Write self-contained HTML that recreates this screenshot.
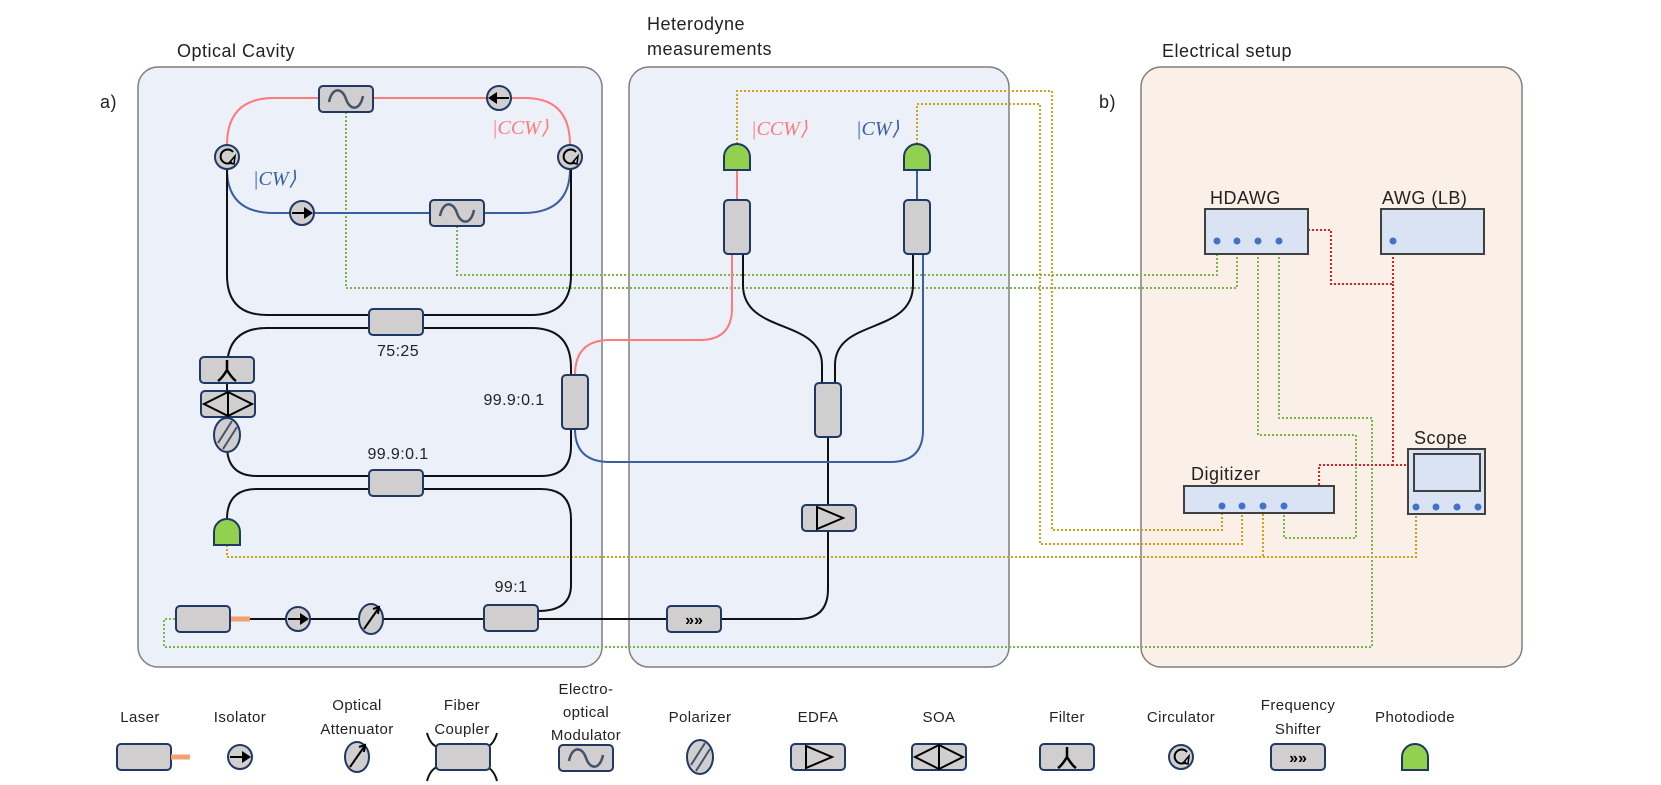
<!DOCTYPE html>
<html><head><meta charset="utf-8"><style>
html,body{margin:0;padding:0;background:#fff;}
svg{display:block;font-family:"Liberation Sans",sans-serif;}
.t{font-size:16px;fill:#222;letter-spacing:0.4px}
.lg{font-size:15px}
.h{font-size:18px;fill:#222;letter-spacing:0.5px}
.c{fill:#d0cece;stroke:#203864;stroke-width:2}
.bk{fill:none;stroke:#111;stroke-width:2}
.pk{fill:none;stroke:#ff7b7b;stroke-width:2}
.bl{fill:none;stroke:#3a5fa0;stroke-width:2}
.g{fill:none;stroke:#7ab648;stroke-width:2;stroke-dasharray:2 2}
.o{fill:none;stroke:#d4a017;stroke-width:2;stroke-dasharray:2 2}
.r{fill:none;stroke:#e02020;stroke-width:2;stroke-dasharray:2 2}
.pd{fill:#92d050;stroke:#203864;stroke-width:2}
.ins{fill:#dae3f3;stroke:#404040;stroke-width:2}
.port{fill:#4472c4}
</style></head><body>
<svg width="1661" height="785" viewBox="0 0 1661 785">
<defs>
<g id="eom"><rect class="c" x="-27" y="-13" width="54" height="26" rx="4"/><path d="M-17,3 C-14,-12 -4,-12 0,0 C4,12 14,12 17,-3" fill="none" stroke="#44546a" stroke-width="2.5"/></g>
<g id="cpl"><rect class="c" x="-27" y="-13" width="54" height="26" rx="4"/></g>
<g id="vcpl"><rect class="c" x="-13" y="-27" width="26" height="54" rx="4"/></g>
<g id="isoR"><circle class="c" r="12"/><path d="M-10,0 H4" stroke="#000" stroke-width="2"/><path d="M2,-6 L11,0 L2,6Z" fill="#000"/></g>
<g id="isoL"><circle class="c" r="12"/><path d="M10,0 H-4" stroke="#000" stroke-width="2"/><path d="M-2,-6 L-11,0 L-2,6Z" fill="#000"/></g>
<g id="circ"><circle class="c" r="12"/><path d="M6,-5 A7,7 0 1 0 5,5" fill="none" stroke="#000" stroke-width="2"/><path d="M2,6 L8,-1 L7,7Z" fill="none" stroke="#000" stroke-width="1.5"/></g>
<g id="att"><ellipse class="c" rx="12" ry="15"/><path d="M-7,10 L7,-10" stroke="#000" stroke-width="2"/><path d="M2,-10 L8,-12 L7,-5" fill="none" stroke="#000" stroke-width="2"/></g>
<g id="pol"><ellipse class="c" rx="13" ry="17" fill="#d0cece"/><path d="M-9,8 L5,-14 M-4,14 L10,-8" stroke="#44546a" stroke-width="2"/></g>
<g id="flt"><rect class="c" x="-27" y="-13" width="54" height="26" rx="4"/><path d="M0,-10 V0 M0,0 C-3,5 -6,9 -9,11 M0,0 C3,5 6,9 9,11" fill="none" stroke="#000" stroke-width="2.5"/></g>
<g id="soa"><rect class="c" x="-27" y="-13" width="54" height="26" rx="4"/><path d="M-24,0 L0,-12 L24,0 L0,12Z M0,-12 V12" fill="none" stroke="#000" stroke-width="2"/></g>
<g id="edfa"><rect class="c" x="-27" y="-13" width="54" height="26" rx="4"/><path d="M-12,-11 V11 L14,0Z" fill="none" stroke="#000" stroke-width="2"/></g>
<g id="fs"><rect class="c" x="-27" y="-13" width="54" height="26" rx="4"/><text x="0" y="6" text-anchor="middle" font-size="16" font-weight="bold" fill="#000">»»</text></g>
<g id="pdi"><path class="pd" d="M-13,13 V0 A13,13 0 0 1 13,0 V13Z"/></g>
</defs>

<rect x="138" y="67" width="464" height="600" rx="20" fill="#ebf0f9" stroke="#7f7f7f" stroke-width="1.5"/>
<rect x="629" y="67" width="380" height="600" rx="20" fill="#ebf0f9" stroke="#7f7f7f" stroke-width="1.5"/>
<rect x="1141" y="67" width="381" height="600" rx="20" fill="#fbf0e8" stroke="#7f7f7f" stroke-width="1.5"/>
<text class="h" x="177" y="57">Optical Cavity</text>
<text class="h" x="647" y="30">Heterodyne</text>
<text class="h" x="647" y="55">measurements</text>
<text class="h" x="1162" y="57">Electrical setup</text>
<text class="h" x="100" y="108">a)</text>
<text class="h" x="1099" y="108">b)</text>

<path class="g" d="M346,112 V288 H1237 V241"/>
<path class="g" d="M457,226 V275 H1217 V241"/>
<path class="g" d="M1258,241 V435 H1356 V538 H1284 V506"/>
<path class="g" d="M1279,241 V418 H1372 V647 H164 V619 H176"/>
<path class="o" d="M737,144 V91 H1052 V530 H1222 V506"/>
<path class="o" d="M917,144 V104 H1040 V544 H1242 V506"/>
<path class="o" d="M227,545 V557 H1416 V506"/>
<path class="o" d="M1263,506 V557"/>
<path class="r" d="M1308,230 H1331 V284 H1393 V241"/>
<path class="r" d="M1393,284 V465 H1408 M1393,465 H1319 V486"/>

<path class="pk" d="M227,145 Q227,98 274,98 L525,98 Q570,98 570,145"/>
<path class="bl" d="M227,169 Q227,213 274,213 L523,213 Q570,213 570,169"/>
<path class="bk" d="M227,169 L227,275 Q227,315 267,315 L531,315 Q571,315 571,275 L571,169"/>
<path class="bk" d="M227,436 L227,446 Q227,476 257,476 L541,476 Q571,476 571,446 L571,429"/>
<path class="bk" d="M571,375 L571,368 Q571,328 531,328 L267,328 Q227,328 227,368 L227,436"/>
<path class="bk" d="M227,520 L227,519 Q227,489 257,489 L541,489 Q571,489 571,519 L571,585 Q571,611 538,611"/>
<path class="bk" d="M230,619 L798,619 Q828,619 828,589 L828,436"/>
<path d="M230,619 H250" stroke="#f4a070" stroke-width="5"/>
<path class="pk" d="M575,375 Q575,340 610,340 L700,340 Q732,340 732,308 L732,254"/>
<path class="bl" d="M575,429 Q575,462 610,462 L890,462 Q923,462 923,430 L923,254"/>
<path class="bk" d="M743,254 L743,285 C743,335 822,318 822,365 L822,383"/>
<path class="bk" d="M913,254 L913,285 C913,335 835,318 835,365 L835,383"/>
<path class="pk" d="M737,170 V200"/>
<path class="bl" d="M917,170 V200"/>

<use href="#eom" x="346" y="99"/>
<use href="#isoL" x="499" y="98"/>
<use href="#circ" x="227" y="157"/>
<use href="#circ" x="570" y="157"/>
<use href="#isoR" x="302" y="213"/>
<use href="#eom" x="457" y="213"/>
<use href="#cpl" x="396" y="322"/>
<text class="t" x="398" y="356" text-anchor="middle">75:25</text>
<use href="#flt" x="227" y="370"/>
<use href="#soa" x="228" y="404"/>
<use href="#pol" x="227" y="435"/>
<use href="#vcpl" x="575" y="402"/>
<text class="t" x="514" y="405" text-anchor="middle">99.9:0.1</text>
<use href="#cpl" x="396" y="483"/>
<text class="t" x="398" y="459" text-anchor="middle">99.9:0.1</text>
<use href="#pdi" x="227" y="532"/>
<rect class="c" x="176" y="606" width="54" height="26" rx="4"/>
<use href="#isoR" x="298" y="619"/>
<use href="#att" x="371" y="619"/>
<use href="#cpl" x="511" y="618"/>
<text class="t" x="511" y="592" text-anchor="middle" font-size="18">99:1</text>
<use href="#fs" x="694" y="619"/>
<use href="#pdi" x="737" y="157"/>
<use href="#pdi" x="917" y="157"/>
<use href="#vcpl" x="737" y="227"/>
<use href="#vcpl" x="917" y="227"/>
<use href="#vcpl" x="828" y="410"/>
<use href="#edfa" x="829" y="518"/>
<text x="751" y="135" font-family="Liberation Serif" font-style="italic" font-size="20" fill="#ff7b7b">|CCW⟩</text>
<text x="856" y="135" font-family="Liberation Serif" font-style="italic" font-size="20" fill="#3a5fa0">|CW⟩</text>
<text x="492" y="134" font-family="Liberation Serif" font-style="italic" font-size="20" fill="#ff7b7b">|CCW⟩</text>
<text x="253" y="185" font-family="Liberation Serif" font-style="italic" font-size="20" fill="#3a5fa0">|CW⟩</text>

<text class="h" x="1210" y="204" font-size="17">HDAWG</text>
<rect class="ins" x="1205" y="209" width="103" height="45"/>
<circle class="port" cx="1217" cy="241" r="3.5"/><circle class="port" cx="1237" cy="241" r="3.5"/><circle class="port" cx="1258" cy="241" r="3.5"/><circle class="port" cx="1279" cy="241" r="3.5"/>
<text class="h" x="1382" y="204" font-size="17">AWG (LB)</text>
<rect class="ins" x="1381" y="209" width="103" height="45"/>
<circle class="port" cx="1393" cy="241" r="3.5"/>
<text class="h" x="1191" y="480" font-size="17">Digitizer</text>
<rect class="ins" x="1184" y="486" width="150" height="27"/>
<circle class="port" cx="1222" cy="506" r="3.5"/><circle class="port" cx="1242" cy="506" r="3.5"/><circle class="port" cx="1263" cy="506" r="3.5"/><circle class="port" cx="1284" cy="506" r="3.5"/>
<text class="h" x="1414" y="444" font-size="17">Scope</text>
<rect class="ins" x="1408" y="449" width="77" height="65"/>
<rect class="ins" x="1414" y="454" width="66" height="37"/>
<circle class="port" cx="1416" cy="507" r="3.5"/><circle class="port" cx="1436" cy="507" r="3.5"/><circle class="port" cx="1457" cy="507" r="3.5"/><circle class="port" cx="1478" cy="507" r="3.5"/>

<g class="t lg" text-anchor="middle">
<text x="140" y="722">Laser</text>
<text x="240" y="722">Isolator</text>
<text x="357" y="710">Optical</text><text x="357" y="734">Attenuator</text>
<text x="462" y="710">Fiber</text><text x="462" y="734">Coupler</text>
<text x="586" y="694">Electro-</text><text x="586" y="717">optical</text><text x="586" y="740">Modulator</text>
<text x="700" y="722">Polarizer</text>
<text x="818" y="722">EDFA</text>
<text x="939" y="722">SOA</text>
<text x="1067" y="722">Filter</text>
<text x="1181" y="722">Circulator</text>
<text x="1298" y="710">Frequency</text><text x="1298" y="734">Shifter</text>
<text x="1415" y="722">Photodiode</text>
</g>
<rect class="c" x="117" y="744" width="54" height="26" rx="4"/>
<path d="M171,757 H190" stroke="#f4a070" stroke-width="5"/>
<use href="#isoR" x="240" y="757"/>
<use href="#att" x="357" y="757"/>
<path class="bk" d="M427,733 Q430,744 437,747 M497,733 Q494,744 487,747 M427,781 Q430,770 437,767 M497,781 Q494,770 487,767"/>
<rect class="c" x="436" y="744" width="54" height="26" rx="4"/>
<use href="#eom" x="586" y="758"/>
<use href="#pol" x="700" y="757"/>
<use href="#edfa" x="818" y="757"/>
<use href="#soa" x="939" y="757"/>
<use href="#flt" x="1067" y="757"/>
<use href="#circ" x="1181" y="757"/>
<use href="#fs" x="1298" y="757"/>
<use href="#pdi" x="1415" y="757"/>
</svg>
</body></html>
